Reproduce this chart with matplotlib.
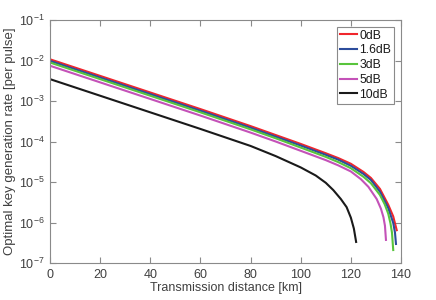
import numpy as np
import matplotlib
matplotlib.use('Agg')
import matplotlib.pyplot as plt
from matplotlib.ticker import LogLocator, NullLocator

plt.rcParams['font.family'] = ['Liberation Sans', 'DejaVu Sans']
plt.rcParams['mathtext.default'] = 'regular'

# distance [km] and log10(key rate per pulse)
d_0 = [0, 20, 40, 60, 70, 80, 90, 100, 110, 115, 120, 125, 128, 131.6, 134.9, 136.9, 138.3]
r_0 = [-1.97, -2.38, -2.79, -3.20, -3.41, -3.62, -3.84, -4.06, -4.29, -4.41, -4.55, -4.75,
       -4.90, -5.17, -5.56, -5.85, -6.19]

d_16 = [0, 20, 40, 60, 70, 80, 90, 100, 110, 115, 120, 125, 128, 131.6, 134.9, 136.9, 137.6, 138.0]
r_16 = [-2.01, -2.42, -2.83, -3.24, -3.45, -3.66, -3.88, -4.10, -4.33, -4.45, -4.60, -4.80,
        -4.95, -5.24, -5.64, -6.01, -6.25, -6.53]

d_3 = [0, 20, 40, 60, 70, 80, 90, 100, 110, 115, 120, 125, 128, 131.6, 133.5, 134.9, 135.8, 136.4, 136.9]
r_3 = [-2.05, -2.46, -2.87, -3.28, -3.49, -3.70, -3.92, -4.15, -4.38, -4.51, -4.66, -4.87,
       -5.03, -5.32, -5.55, -5.78, -6.02, -6.25, -6.68]

d_5 = [0, 20, 40, 60, 70, 80, 90, 100, 110, 115, 120, 124, 127, 130.3, 132, 133, 133.6, 134.0]
r_5 = [-2.13, -2.54, -2.95, -3.36, -3.57, -3.78, -4.00, -4.23, -4.46, -4.59, -4.74, -4.93,
       -5.12, -5.42, -5.66, -5.87, -6.08, -6.43]

d_10 = [0, 20, 40, 60, 70, 80, 90, 100, 106, 110, 113, 116, 118.3, 120, 121.2, 122.1]
r_10 = [-2.46, -2.87, -3.28, -3.69, -3.90, -4.11, -4.36, -4.64, -4.84, -5.02, -5.20, -5.42,
        -5.62, -5.88, -6.15, -6.48]

labels = ['0dB', '1.6dB', '3dB', '5dB', '10dB']
colors = ['#f0262c', '#2c4c9c', '#58c43c', '#c452b8', '#1a1a1a']
series = [(d_0, r_0), (d_16, r_16), (d_3, r_3), (d_5, r_5), (d_10, r_10)]

fig = plt.figure(figsize=(4.36, 3.0), dpi=100)
ax = fig.add_axes([50 / 436, 37 / 300, 351 / 436, 243 / 300])

for (d, r), lab, c in zip(series, labels, colors):
    ax.semilogy(d, 10 ** np.array(r), color=c, lw=1.5, label=lab)

ax.set_xlim(0, 140)
ax.set_ylim(1e-7, 1e-1)
ax.set_xticks(np.arange(0, 141, 20))
ax.yaxis.set_major_locator(LogLocator(base=10, numticks=10))
ax.yaxis.set_minor_locator(NullLocator())

gray = '#8a8a8a'
for s in ax.spines.values():
    s.set_color(gray)
    s.set_linewidth(0.8)
ax.tick_params(direction='in', length=4, width=0.8, color=gray,
               labelcolor='#404040', labelsize=9, top=True, right=True, pad=4)

ax.set_xlabel('Transmission distance [km]', fontsize=9, color='#404040', labelpad=1)
ax.set_ylabel('Optimal key generation rate [per pulse]', fontsize=9.5, color='#404040', labelpad=2)

leg = ax.legend(loc='upper right', fontsize=8.8, handlelength=1.4, handletextpad=0.2,
                borderpad=0.25, labelspacing=0.22, borderaxespad=0.55, fancybox=False,
                framealpha=1)
leg.get_frame().set_edgecolor(gray)
leg.get_frame().set_linewidth(0.8)
for t in leg.get_texts():
    t.set_color('#1a1a1a')

fig.savefig('out.png', dpi=100)
